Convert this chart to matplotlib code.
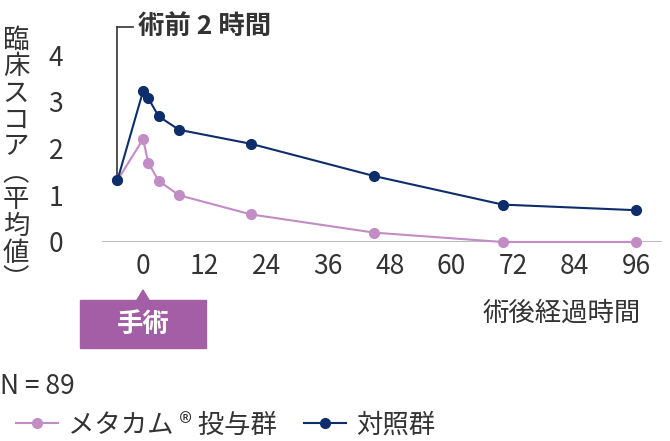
import matplotlib
matplotlib.use("Agg")
import matplotlib.pyplot as plt
from matplotlib.lines import Line2D

plt.rcParams['font.family'] = ['Noto Sans CJK JP', 'DejaVu Sans']

x = [-5, 0, 1, 3, 7, 21, 45, 70, 96]
meta = [1.32, 2.2, 1.7, 1.31, 1.0, 0.59, 0.2, 0.0, 0.0]
ctrl = [1.32, 3.23, 3.08, 2.69, 2.40, 2.10, 1.41, 0.80, 0.68]
xticks = [0, 12, 24, 36, 48, 60, 72, 84, 96]
yticks = [0, 1, 2, 3, 4]
c_meta = '#c28cc4'
c_ctrl = '#0d2d6b'
fs = 19

fig = plt.figure(figsize=(6.70, 4.41), dpi=100)
ax = fig.add_axes([102/670, 1-242/441, (662-102)/670, (242-55)/441])
ax.set_xlim(-8, 101)
ax.set_ylim(0, 4)
ax.plot(x, meta, color=c_meta, marker='o', ms=7, lw=1.5, zorder=3, clip_on=False)
ax.plot(x, ctrl, color=c_ctrl, marker='o', ms=7, lw=1.5, zorder=3, clip_on=False)
ax.axhline(0, color='#bbbbbb', lw=1.5, zorder=1)
for s in ax.spines.values():
    s.set_visible(False)
ax.set_xticks(xticks)
ax.set_yticks(yticks)
ax.tick_params(length=0, labelsize=fs, colors='#333333', pad=8)
ax.tick_params(axis='y', pad=28)

ax.plot([-5, -5], [1.4, 4.6], color='#333333', lw=1.2, clip_on=False)
ax.plot([-5, -2], [4.6, 4.6], color='#333333', lw=1.2, clip_on=False)
ax.text(-1, 4.6, '術前 2 時間', fontsize=fs, fontweight='bold', va='center', ha='left', color='#333333')

fig.text(16/670, 1-160/441, '臨\n床\nス\nコ\nア\n︵\n平\n均\n値\n︶', fontsize=fs, ha='center', va='center',
         linespacing=0.98, color='#333333')

fig.text(562/670, 1-313/441, '術後経過時間', fontsize=fs, ha='center', va='center', color='#333333')

fig.patches.append(plt.Rectangle((80/670, 1-348/441), 126/670, 48/441, transform=fig.transFigure,
                                 color='#a35ea6', zorder=2))
fig.patches.append(plt.Polygon([[137/670, 1-300/441], [149/670, 1-300/441], [143/670, 1-290/441]],
                               closed=True, transform=fig.transFigure, color='#a35ea6'))
fig.text(143/670, 1-324/441, '手術', fontsize=fs, fontweight='bold', color='white', ha='center', va='center')

fig.text(0/670, 1-386/441, 'N = 89', fontsize=fs, va='center', color='#333333')
handles = [Line2D([0], [0], color=c_meta, marker='o', lw=1.5, ms=7),
           Line2D([0], [0], color=c_ctrl, marker='o', lw=1.5, ms=7)]
fig.legend(handles, ['メタカム ® 投与群', '対照群'], loc='center left', bbox_to_anchor=(-0.012, 1-425/441),
           ncol=2, frameon=False, fontsize=fs, handlelength=1.6, columnspacing=1.0, handletextpad=0.4,
           labelcolor='#333333')
fig.savefig('out.png', dpi=100)
